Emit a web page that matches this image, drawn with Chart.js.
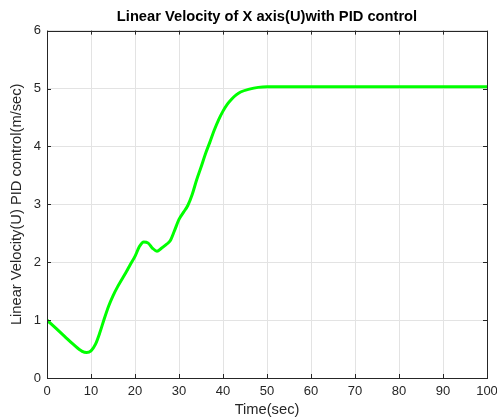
<!DOCTYPE html>
<html>
<head>
<meta charset="utf-8">
<script src="https://cdn.jsdelivr.net/npm/chart.js@4"></script>
<style>
    html, body { margin: 0; padding: 0; background: #fff; }
    #wrap { width: 497px; height: 419px; position: relative; }
</style>
</head>
<body>
<div id="wrap"><canvas id="velChart" width="497" height="419"></canvas></div>
<script>
// === DATA ===
const timeSec = [0, 2, 4, 6, 8, 9, 10, 11, 12, 13, 14, 15, 16, 17, 18, 19, 20, 21, 22, 23, 24, 25, 26, 27, 28, 29, 30,
    31, 32, 33, 34, 35, 36, 37, 38, 39, 40, 41, 42, 43, 44, 46, 48, 50, 60, 70, 80, 90, 100];
const velocity = [1.00, 0.86, 0.72, 0.58, 0.46, 0.44, 0.47, 0.58, 0.78, 1.02, 1.24, 1.42, 1.57, 1.70, 1.83, 1.97, 2.10,
    2.27, 2.35, 2.33, 2.24, 2.19, 2.24, 2.30, 2.37, 2.55, 2.74, 2.86, 2.98, 3.17, 3.42, 3.64, 3.87, 4.07, 4.28, 4.46,
    4.61, 4.73, 4.82, 4.89, 4.94, 4.99, 5.02, 5.03, 5.03, 5.03, 5.03, 5.03, 5.03];
const xTicks = [0, 10, 20, 30, 40, 50, 60, 70, 80, 90, 100];
const yTicks = [0, 1, 2, 3, 4, 5, 6];

const AXIS_COLOR = '#262626';
const FONT = 'Arial, "Liberation Sans", sans-serif';

// box + inward tick marks, MATLAB style
const boxPlugin = {
    id: 'boxPlugin',
    afterDraw(chart) {
        const { ctx, chartArea: a, scales } = chart;
        ctx.save();
        ctx.strokeStyle = AXIS_COLOR;
        ctx.lineWidth = 1;
        ctx.beginPath();
        xTicks.forEach(v => {
            const x = Math.round(scales.x.getPixelForValue(v)) + 0.5;
            ctx.moveTo(x, a.bottom); ctx.lineTo(x, a.bottom - 4);
            ctx.moveTo(x, a.top); ctx.lineTo(x, a.top + 4);
        });
        yTicks.forEach(v => {
            const y = Math.round(scales.y.getPixelForValue(v)) + 0.5;
            ctx.moveTo(a.left, y); ctx.lineTo(a.left + 4, y);
            ctx.moveTo(a.right, y); ctx.lineTo(a.right - 4, y);
        });
        ctx.stroke();
        ctx.strokeRect(Math.round(a.left) + 0.5, Math.round(a.top) + 0.5,
            Math.round(a.right - a.left), Math.round(a.bottom - a.top));
        ctx.restore();
    }
};

const ctx = document.getElementById('velChart').getContext('2d');
const chart = new Chart(ctx, {
    type: 'line',
    data: {
        datasets: [{
            data: timeSec.map((t, i) => ({ x: t, y: velocity[i] })),
            borderColor: '#00ff00',
            borderWidth: 3,
            pointRadius: 0,
            cubicInterpolationMode: 'monotone',
            fill: false
        }]
    },
    options: {
        responsive: false,
        animation: false,
        layout: { padding: { left: 0, right: 0, top: 0, bottom: 0 } },
        plugins: {
            legend: { display: false },
            tooltip: { enabled: false },
            title: {
                display: true,
                fullSize: false,
                text: 'Linear Velocity of X axis(U)with PID control',
                color: '#000',
                font: { family: FONT, size: 14.7, weight: 'bold' },
                padding: { top: 8, bottom: 5 }
            }
        },
        scales: {
            x: {
                type: 'linear',
                min: 0,
                max: 100,
                afterBuildTicks: s => { s.ticks = xTicks.map(v => ({ value: v })); },
                afterFit: s => { s.height = 41; s.paddingRight = 10; s.paddingLeft = 0; },
                grid: { color: '#e3e3e3', drawTicks: false },
                border: { display: false },
                ticks: { color: AXIS_COLOR, font: { family: FONT, size: 13 }, padding: 6, maxRotation: 0 },
                title: {
                    display: true,
                    text: 'Time(sec)',
                    color: AXIS_COLOR,
                    font: { family: FONT, size: 14.7 },
                    padding: { top: 2, bottom: 0 }
                }
            },
            y: {
                min: 0,
                max: 6,
                afterBuildTicks: s => { s.ticks = yTicks.map(v => ({ value: v })); },
                afterFit: s => { s.width = 47; },
                grid: { color: '#e3e3e3', drawTicks: false },
                border: { display: false },
                ticks: { color: AXIS_COLOR, font: { family: FONT, size: 13 }, padding: 6 },
                title: {
                    display: true,
                    text: 'Linear Velocity(U) PID control(m/sec)',
                    color: AXIS_COLOR,
                    font: { family: FONT, size: 14.7 },
                    padding: { top: 8, bottom: 0 }
                }
            }
        }
    },
    plugins: [boxPlugin]
});
</script>
</body>
</html>
